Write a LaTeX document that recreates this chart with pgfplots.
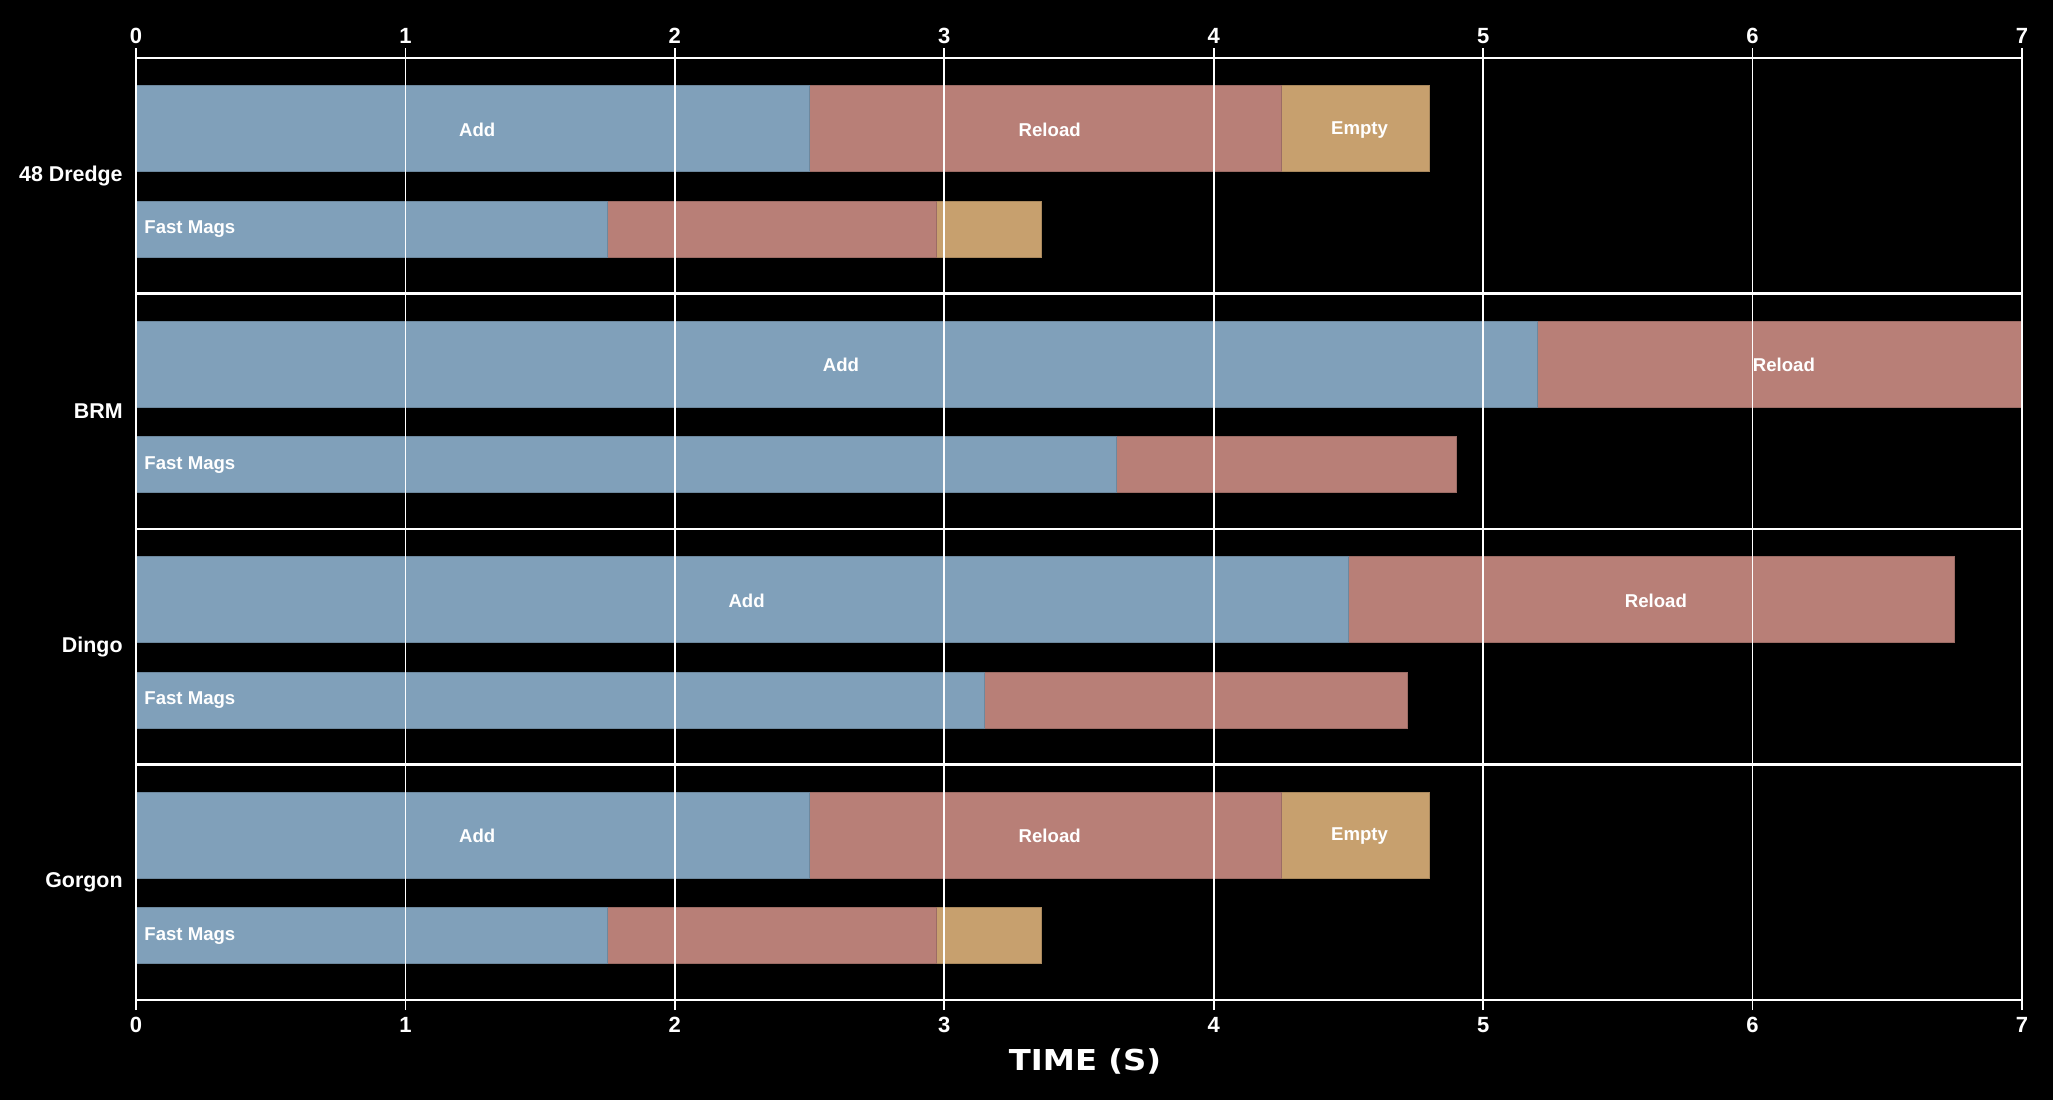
\documentclass[border=0pt]{standalone}
\usepackage{fontspec}
\setmainfont{Liberation Sans}
\newfontfamily\titlefont[FakeStretch=1.12]{DejaVu Sans}
\usepackage{pgfplots}
\pgfplotsset{compat=1.18}
\definecolor{cadd}{HTML}{80A0BA}
\definecolor{crel}{HTML}{B87F77}
\definecolor{cemp}{HTML}{C7A06E}
\tikzset{lab/.style={text=white, font=\fontsize{9.3}{11}\selectfont\bfseries, inner sep=0pt},
         clab/.style={lab, xshift=2.2pt, yshift=-0.5pt}}
\begin{document}
\begin{tikzpicture}
\path[fill=black, use as bounding box] (-68pt,-50pt) rectangle (958.5pt,500pt);
\begin{axis}[
  at={(0pt,0pt)}, anchor=south west,
  width=943pt, height=471pt, scale only axis,
  xmin=0, xmax=7, ymin=0, ymax=4,
  axis line style={draw=none},
  xtick={0,1,2,3,4,5,6,7},
  xtick pos=both, xticklabel pos=lower,
  xmajorgrids,
  major grid style={white, line width=0.85pt},
  xtick style={white, line width=0.85pt},
  major tick length=5pt, tick align=outside,
  ytick={0.5,1.5,2.5,3.5},
  yticklabels={Gorgon,Dingo,BRM,48 Dredge},
  ytick style={draw=none},
  minor ytick={0,1,2,3,4},
  yminorgrids,
  minor grid style={white, line width=1.4pt},
  minor tick length=0pt,
  /pgf/number format/assume math mode=true,
  xticklabel style={font=\fontsize{11}{13}\selectfont\bfseries, text=white, anchor=center, yshift=-7.5pt},
  yticklabel style={font=\fontsize{10.7}{12}\selectfont\bfseries, text=white, anchor=east, inner sep=0pt, xshift=-1.5pt},
  xlabel={TIME (S)},
  xlabel style={at={(axis description cs:0.5,0)}, anchor=center, yshift=-30.5pt, xshift=3pt, text=white, font=\titlefont\bfseries\fontsize{14.4}{16}\selectfont},
  axis on top,
]
% Add rows
\addplot[xbar, bar shift=0pt, bar width=0.365, fill=cemp, draw=cemp!85!black, line width=0.5pt]
  coordinates {(4.8,3.7) (4.8,0.7)};
\addplot[xbar, bar shift=0pt, bar width=0.365, fill=crel, draw=crel!85!black, line width=0.5pt]
  coordinates {(4.25,3.7) (7.0,2.7) (6.75,1.7) (4.25,0.7)};
\addplot[xbar, bar shift=0pt, bar width=0.365, fill=cadd, draw=cadd!85!black, line width=0.5pt]
  coordinates {(2.5,3.7) (5.2,2.7) (4.5,1.7) (2.5,0.7)};
% Fast Mags rows
\addplot[xbar, bar shift=0pt, bar width=0.239, fill=cemp, draw=cemp!85!black, line width=0.5pt]
  coordinates {(3.36,3.273) (3.36,0.273)};
\addplot[xbar, bar shift=0pt, bar width=0.239, fill=crel, draw=crel!85!black, line width=0.5pt]
  coordinates {(2.97,3.273) (4.9,2.273) (4.72,1.273) (2.97,0.273)};
\addplot[xbar, bar shift=0pt, bar width=0.239, fill=cadd, draw=cadd!85!black, line width=0.5pt]
  coordinates {(1.75,3.273) (3.64,2.273) (3.15,1.273) (1.75,0.273)};
% labels
\node[clab] at (axis cs:1.25,3.7) {Add};
\node[clab] at (axis cs:3.375,3.7) {Reload};
\node[clab] at (axis cs:4.525,3.7) {Empty};
\node[clab] at (axis cs:2.6,2.7) {Add};
\node[clab] at (axis cs:6.1,2.7) {Reload};
\node[clab] at (axis cs:2.25,1.7) {Add};
\node[clab] at (axis cs:5.625,1.7) {Reload};
\node[clab] at (axis cs:1.25,0.7) {Add};
\node[clab] at (axis cs:3.375,0.7) {Reload};
\node[clab] at (axis cs:4.525,0.7) {Empty};
\node[lab, anchor=west, xshift=4pt] at (axis cs:0,3.273) {Fast Mags};
\node[lab, anchor=west, xshift=4pt] at (axis cs:0,2.273) {Fast Mags};
\node[lab, anchor=west, xshift=4pt] at (axis cs:0,1.273) {Fast Mags};
\node[lab, anchor=west, xshift=4pt] at (axis cs:0,0.273) {Fast Mags};
\end{axis}
\begin{axis}[
  at={(0pt,0pt)}, anchor=south west,
  width=943pt, height=471pt, scale only axis,
  xmin=0, xmax=7, ymin=0, ymax=4,
  axis line style={draw=none},
  xtick={0,1,2,3,4,5,6,7},
  xtick pos=upper, xticklabel pos=upper,
  xtick style={draw=none},
  ytick=\empty,
  /pgf/number format/assume math mode=true,
  xticklabel style={font=\fontsize{11}{13}\selectfont\bfseries, text=white, anchor=center, yshift=11pt},
]
\end{axis}
\end{tikzpicture}
\end{document}
